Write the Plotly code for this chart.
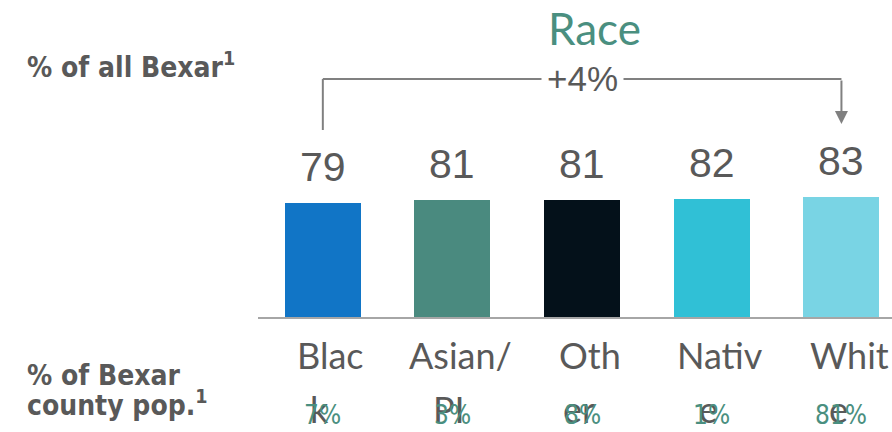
import plotly.graph_objects as go

categories = ["Black", "Asian/PI", "Other", "Native", "White"]
values = [79, 81, 81, 82, 83]
label_line1 = ["Blac", "Asian/", "Oth", "Nativ", "Whit"]
label_line2 = ["k", "PI", "er", "e", "e"]
pop_share = ["7%", "3%", "8%", "1%", "81%"]
bar_colors = ["#1175c6", "#4a8a7f", "#04111a", "#30c0d6", "#79d4e4"]
change_label = "+4%"
title_text = "Race"

W, H = 892, 432
def yp(px):
    return 1 - px / H

GRAY = "#595959"
TEAL = "#4a8f80"
COND = "DejaVu Sans Condensed, DejaVu Sans, sans-serif"

fig = go.Figure()
fig.add_trace(go.Bar(
    x=list(range(len(categories))), y=values,
    marker=dict(color=bar_colors, line=dict(width=0)),
    width=0.586, hoverinfo="skip", showlegend=False,
))

ann = []
# value labels
for i, v in enumerate(values):
    ann.append(dict(x=i, y=v, xref="x", yref="y", text=str(v), showarrow=False,
                    yanchor="bottom", yshift=11,
                    font=dict(family="Liberation Sans, Arial", size=41, color=GRAY)))
# category labels (wrapped)
for i in range(len(categories)):
    ann.append(dict(x=i, y=yp(355), xref="x", yref="paper", text=label_line1[i],
                    showarrow=False, yanchor="middle", xshift=8,
                    font=dict(family="Lato", size=36, color=GRAY)))
    ann.append(dict(x=i, y=yp(409), xref="x", yref="paper", text=label_line2[i],
                    showarrow=False, yanchor="middle", xshift=-3,
                    font=dict(family="Lato", size=36, color=GRAY)))
    ann.append(dict(x=i, y=yp(415), xref="x", yref="paper", text=pop_share[i],
                    showarrow=False, yanchor="middle", xshift=0,
                    font=dict(family=COND, size=26, color=TEAL)))
# title
ann.append(dict(x=2, y=yp(28), xref="x", yref="paper", text=title_text, showarrow=False,
                xshift=12, yanchor="middle",
                font=dict(family="Lato", size=44, color=TEAL)))
# left labels
ann.append(dict(x=25 / W, y=yp(65), xref="paper", yref="paper",
                text="<b>% of all Bexar<sup>1</sup></b>", showarrow=False,
                xanchor="left", yanchor="middle",
                font=dict(family=COND, size=28, color=GRAY)))
ann.append(dict(x=25 / W, y=yp(375), xref="paper", yref="paper",
                text="<b>% of Bexar</b>", showarrow=False,
                xanchor="left", yanchor="middle",
                font=dict(family=COND, size=28, color=GRAY)))
ann.append(dict(x=25 / W, y=yp(403), xref="paper", yref="paper",
                text="<b>county pop.<sup>1</sup></b>", showarrow=False,
                xanchor="left", yanchor="middle",
                font=dict(family=COND, size=28, color=GRAY)))
# bracket label
ann.append(dict(x=2, y=yp(79), xref="x", yref="paper", text=change_label, showarrow=False,
                yanchor="middle", bgcolor="white", borderpad=5,
                font=dict(family="Liberation Sans, Arial", size=35, color=GRAY)))
# arrow down to last bar
ann.append(dict(x=len(values) - 1, y=yp(124), xref="x", yref="paper", text="",
                showarrow=True, ax=0, ay=-45, arrowhead=2, arrowsize=1.3,
                arrowwidth=2, arrowcolor="#808080", standoff=0))

shapes = [
    dict(type="line", xref="x", yref="paper", x0=0, x1=0, y0=yp(130), y1=yp(79),
         line=dict(color="#808080", width=2)),
    dict(type="line", xref="x", yref="paper", x0=0, x1=len(values) - 1, y0=yp(79), y1=yp(79),
         line=dict(color="#808080", width=2)),
]

fig.update_layout(
    width=W, height=H, autosize=False,
    margin=dict(l=0, r=0, t=0, b=0),
    paper_bgcolor="white", plot_bgcolor="white",
    xaxis=dict(domain=[258 / W, 1], range=[-0.5, 4.39], showticklabels=False,
               showgrid=False, zeroline=False, showline=True, linecolor="#a6a6a6",
               linewidth=2, ticks=""),
    yaxis=dict(domain=[yp(317), 1], range=[0, 317 / 1.44], visible=False),
    annotations=ann, shapes=shapes, bargap=0,
)
fig.write_html("out.html", config={"displayModeBar": False},
               post_script="document.body.style.margin='0';document.body.style.overflow='hidden';")
